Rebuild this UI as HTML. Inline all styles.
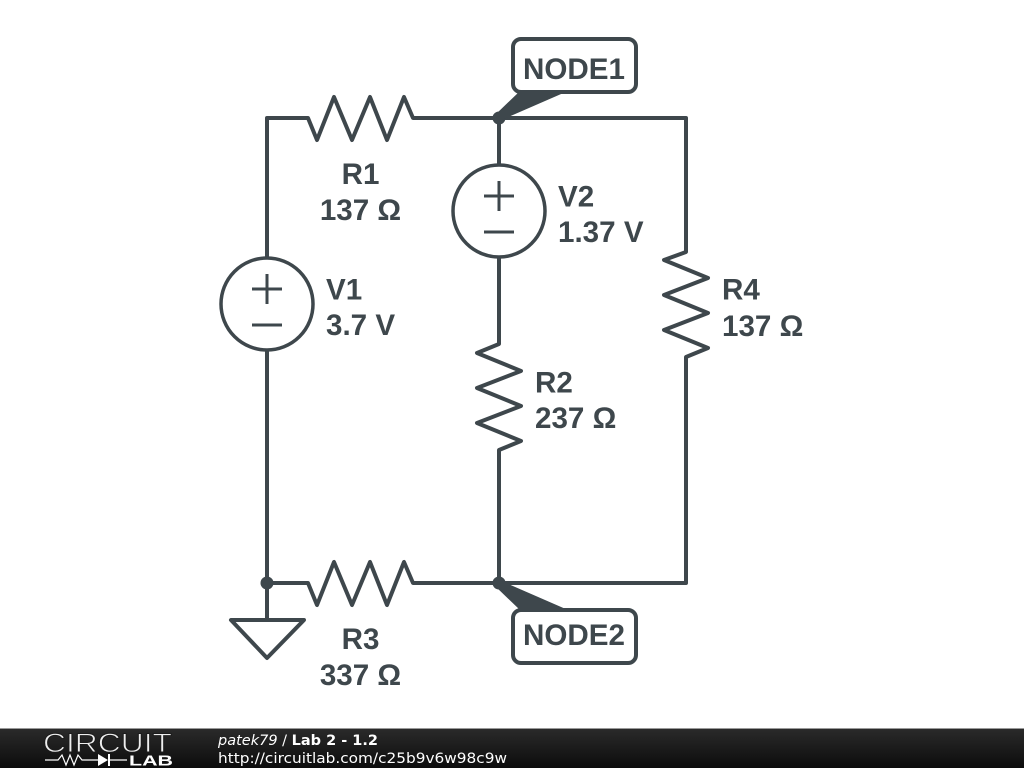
<!DOCTYPE html>
<html><head><meta charset="utf-8"><style>
html,body{margin:0;padding:0;background:#fff;width:1024px;height:768px;overflow:hidden}
svg{display:block}
.t{font-family:"Liberation Sans",sans-serif;font-weight:bold;font-size:29.6px;fill:#3e474c}
.f{font-family:"DejaVu Sans",sans-serif;font-size:14.5px;fill:#fff}
</style></head><body>
<svg width="1024" height="768" viewBox="0 0 1024 768" xmlns="http://www.w3.org/2000/svg">
<defs><linearGradient id="g" x1="0" y1="0" x2="0" y2="1"><stop offset="0" stop-color="#2a2a2a"/><stop offset="1" stop-color="#0c0c0c"/></linearGradient></defs>
<g fill="none" stroke="#3e474c" stroke-width="4" stroke-linejoin="round" stroke-linecap="round">
<!-- wires -->
<path d="M267 258V118H308L317 140L334 97L352 140L370 97L387 140L404 97L413 118H686V252L664 260L708 278L664 295L708 313L664 330L708 348L686 357V583H413L404 562L387 605L370 562L352 605L334 562L317 605L308 583H267"/>
<path d="M267 351V620"/>
<path d="M499 118V165M499 258V344L477 353L521 371L477 388L521 406L477 423L521 441L499 450V583"/>
<!-- ground -->
<path d="M231 620H304L267 658Z"/>
<!-- node labels -->
<rect x="513" y="39" width="123" height="53" rx="8" fill="#fff"/>
<rect x="513" y="610" width="123" height="53" rx="8" fill="#fff"/>
</g>
<!-- sources -->
<g fill="#fff" stroke="#3e474c" stroke-width="3.5">
<circle cx="267" cy="304" r="46"/>
<circle cx="499" cy="211" r="46"/>
</g>
<g fill="none" stroke="#3e474c" stroke-width="3">
<path d="M252 289H282M267 274V304M252 325H282"/>
<path d="M484 196H514M499 181V211M484 232H514"/>
</g>
<g fill="#3e474c">
<circle cx="499" cy="118" r="6.5"/><circle cx="499" cy="583" r="6.5"/><circle cx="267" cy="583" r="6.5"/>
<path d="M499 121L568 91H520L495 115Z"/><path d="M499 580L568 610H520L495 586Z"/>
</g>
<text class="t" x="523" y="79">NODE1</text>
<text class="t" x="523" y="645">NODE2</text>
<text class="t" x="360.500" y="184" text-anchor="middle">R1</text>
<text class="t" x="360.500" y="220" text-anchor="middle">137 Ω</text>
<text class="t" x="558" y="206.500">V2</text>
<text class="t" x="558" y="242">1.37 V</text>
<text class="t" x="326" y="299.500">V1</text>
<text class="t" x="326" y="335">3.7 V</text>
<text class="t" x="722" y="299.500">R4</text>
<text class="t" x="722" y="336">137 Ω</text>
<text class="t" x="535" y="392.500">R2</text>
<text class="t" x="535" y="428">237 Ω</text>
<text class="t" x="360.500" y="649" text-anchor="middle">R3</text>
<text class="t" x="360.500" y="685" text-anchor="middle">337 Ω</text>
<!-- footer -->
<rect x="0" y="729" width="1024" height="39" fill="url(#g)"/>
<rect x="0" y="728" width="1024" height="1" fill="#999"/>
<text x="43" y="752" font-family="'Liberation Sans',sans-serif" font-size="27" fill="#eee" stroke="#1c1c1c" stroke-width="0.9" textLength="129" lengthAdjust="spacingAndGlyphs">CIRCUIT</text>
<path d="M45 760H58L62 755L66 765L70 755L74 765L78 755L82 760H99M109 760H127" fill="none" stroke="#fff" stroke-width="1.2"/>
<path d="M98 754L108 760L98 766Z M108 754h2v12h-2Z" fill="#fff"/>
<text x="129" y="765.500" font-family="'Liberation Sans',sans-serif" font-weight="bold" font-size="14.500" fill="#fff" textLength="44" lengthAdjust="spacingAndGlyphs">LAB</text>
<text class="f" x="218" y="745"><tspan font-style="italic">patek79</tspan> / <tspan font-weight="bold">Lab 2 - 1.2</tspan></text>
<text class="f" x="218" y="763" textLength="289" lengthAdjust="spacingAndGlyphs">http://circuitlab.com/c25b9v6w98c9w</text>
</svg>
</body></html>
